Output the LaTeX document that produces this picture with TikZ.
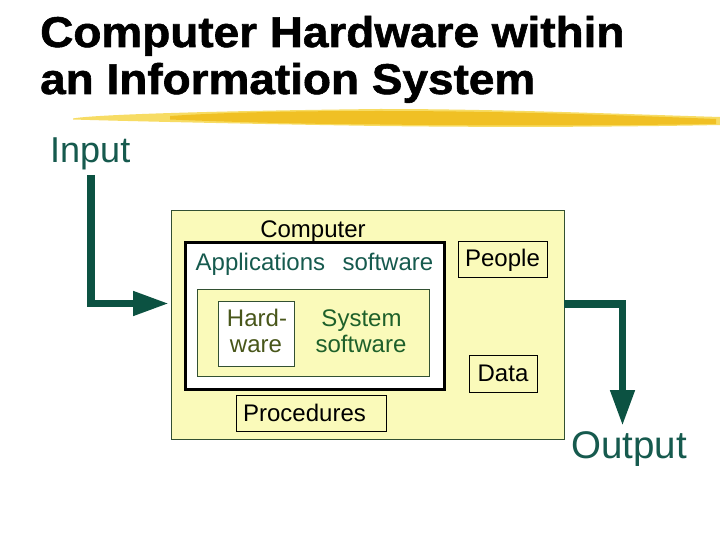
\documentclass[tikz,border=0pt]{standalone}
\usepackage{fontspec}
\setmainfont{Liberation Sans}
\newfontfamily\titlefam[FakeBold=1.3]{Liberation Sans Bold}
\usetikzlibrary{arrows.meta}
\definecolor{tealtext}{RGB}{22,90,78}
\definecolor{arrowc}{RGB}{12,82,66}
\definecolor{paleY}{RGB}{250,250,186}
\definecolor{boxline}{RGB}{50,80,50}
\definecolor{hwtext}{RGB}{72,86,26}
\definecolor{systext}{RGB}{30,96,42}
\definecolor{brushA}{RGB}{240,192,36}
\definecolor{brushB}{RGB}{247,220,100}
\tikzset{
  titlefont/.style={anchor=base west, inner sep=0pt, font=\fontsize{43}{47}\selectfont\titlefam},
  lbl/.style={anchor=base, inner sep=0pt, font=\fontsize{24}{26}\selectfont},
  bigteal/.style={anchor=base west, inner sep=0pt, text=tealtext, font=\fontsize{38.5}{40}\selectfont},
  smallbox/.style={draw=black, line width=0.8pt, fill=paleY, inner sep=0pt},
  flow/.style={draw=arrowc, line width=7.5pt, -{Triangle[length=36pt,width=23pt]}, color=arrowc}
}
\begin{document}
\begin{tikzpicture}[x=1pt,y=-1pt]
\useasboundingbox (0,0) rectangle (720,540);
\fill[white] (0,0) rectangle (720,540);
% title
\node[titlefont] (title1) at (40,47) {\scalebox{1.068}[1]{Computer Hardware within}};
\node[titlefont] (title2) at (40,94) {\scalebox{1.068}[1]{an Information System}};
% brush stroke
\fill[brushB] (73,118.5) .. controls (90,115) and (200,111) .. (380,109)
  .. controls (500,109) and (620,114) .. (720,117)
  -- (720,125) .. controls (620,127) and (500,127.5) .. (380,126)
  .. controls (250,124) and (120,121) .. (73,119.5) -- cycle;
\fill[brushA] (170,116) .. controls (230,112) and (300,111) .. (380,111)
  .. controls (500,111) and (620,115) .. (716,119)
  -- (716,124) .. controls (620,125.5) and (500,126) .. (380,124.5)
  .. controls (300,124) and (230,122) .. (170,119.5) -- cycle;
% outer yellow box
\node[draw=boxline, line width=0.8pt, fill=paleY, minimum width=393pt, minimum height=229pt, inner sep=0pt] (outer) at (367.5,324.5) {};
\node[lbl] (computer) at (313,237.5) {Computer};
% computer box
\node[draw=black, line width=3pt, fill=white, minimum width=259pt, minimum height=147pt, inner sep=0pt] (compbox) at (314.5,315.5) {};
\node[lbl, text=tealtext] (apps) at (314.5,270) {Applications\hspace{0.45em} software};
% inner yellow box
\node[draw=boxline, line width=0.8pt, fill=paleY, minimum width=232pt, minimum height=87pt, inner sep=0pt] (inner) at (313,332.5) {};
\node[draw=boxline, line width=0.8pt, fill=white, minimum width=76pt, minimum height=65pt, inner sep=0pt] (hwbox) at (256,333.5) {};
\node[lbl, text=hwtext] (hard) at (257,326.5) {Hard-};
\node[lbl, text=hwtext] (ware) at (256,352.5) {ware};
\node[lbl, text=systext] (system) at (361.5,326.5) {System};
\node[lbl, text=systext] (syssw) at (361,352.5) {software};
% people, data, procedures
\node[smallbox, minimum width=89pt, minimum height=36pt] (people) at (502.5,259) {};
\node[lbl] (peoplet) at (502.5,266.5) {People};
\node[smallbox, minimum width=68pt, minimum height=37pt] (data) at (503,373.5) {};
\node[lbl] (datat) at (503,381) {Data};
\node[smallbox, minimum width=150pt, minimum height=36pt] (proc) at (311,413) {};
\node[lbl] (proct) at (304.5,421) {Procedures};
% input / output
\node[bigteal, font=\fontsize{36}{40}\selectfont] (input) at (50,163) {Input};
\node[bigteal] (output) at (571,458) {Output};
\coordinate (inStart) at (91,175);
\coordinate (inEnd) at (169,303.5);
\draw[flow] (inStart) |- (inEnd);
\coordinate (outStart) at (outer.east |- 0,304);
\coordinate (outEnd) at (622.5,426);
\draw[flow] (outStart) -| (outEnd);
\end{tikzpicture}
\end{document}
